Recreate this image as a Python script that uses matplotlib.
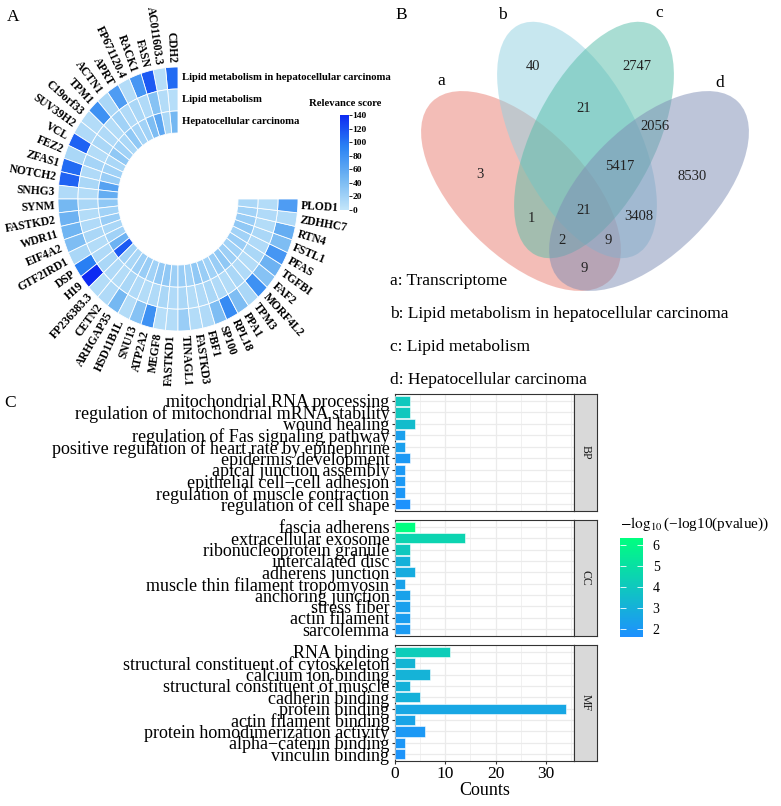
import numpy as np
import matplotlib
matplotlib.use("Agg")
import matplotlib.pyplot as plt
from matplotlib.patches import Wedge, Ellipse
from matplotlib.colors import LinearSegmentedColormap, Normalize
from matplotlib.cm import ScalarMappable

plt.rcParams['font.family'] = ['Liberation Serif', 'DejaVu Serif']
plt.rcParams['mathtext.fontset'] = 'stix'

# --- panel A data: relevance scores per gene, 3 tracks ---
genes = ["CDH2", "AC011603.3", "FASN", "RACK1", "FP671120.4", "APRT", "ACTN1", "TPM1",
         "C19orf33", "SUV39H2", "VCL", "FEZ2", "ZFAS1", "NOTCH2", "SNHG3", "SYNM",
         "FASTKD2", "WDR11", "EIF4A2", "GTF2IRD1", "DSP", "H19", "FP236383.3", "CETN2",
         "ARHGAP35", "HSD11B1L", "SNU13", "ATP2A2", "MEGF8", "FASTKD1", "TINAGL1",
         "FASTKD3", "FBF1", "SP100", "RPL18", "PPA1", "TPM3", "MORF4L2", "FAF2", "TGFBI",
         "PFAS", "FSTL1", "RTN4", "ZDHHC7", "PLOD1"]
tracks = ["Lipid metabolism in hepatocellular carcinoma", "Lipid metabolism",
          "Hepatocellular carcinoma"]
score_lm_hcc = [105, 8, 115, 75, 10, 70, 15, 80, 10, 12, 110, 15, 105, 110, 12, 45,
                50, 48, 40, 15, 95, 140, 10, 12, 45, 10, 35, 80, 8, 10, 25,
                10, 12, 40, 85, 40, 15, 80, 35, 50, 75, 40, 55, 12, 70]
score_lm = [8, 10, 35, 12, 15, 12, 20, 10, 12, 15, 10, 18, 12, 15, 10, 15,
            10, 12, 15, 10, 12, 15, 12, 10, 15, 12, 10, 12, 15, 12, 15,
            10, 12, 15, 12, 10, 15, 12, 10, 15, 12, 15, 10, 12, 10]
score_hcc = [45, 15, 60, 40, 20, 18, 30, 15, 20, 30, 15, 20, 25, 65, 55, 30,
             20, 25, 15, 20, 50, 115, 20, 15, 22, 25, 20, 28, 30, 22, 25,
             20, 30, 25, 20, 25, 30, 22, 20, 25, 20, 30, 25, 20, 15]
score_ticks = [0, 20, 40, 60, 80, 100, 120, 140]

# --- panel B data: Venn counts ---
venn_sets = ["a", "b", "c", "d"]
venn_names = ["Transcriptome", "Lipid metabolism in hepatocellular carcinoma",
              "Lipid metabolism", "Hepatocellular carcinoma"]
venn_regions = ["a", "b", "c", "d", "b&c", "c&d", "b&c&d", "a&c", "a&b&c&d",
                "b&d", "a&c&d", "a&b&d", "a&d"]
venn_counts = [3, 40, 2747, 8530, 21, 2056, 5417, 1, 21, 3408, 2, 9, 9]

# --- panel C data: GO enrichment ---
bp_terms = ["mitochondrial RNA processing", "regulation of mitochondrial mRNA stability",
            "wound healing", "regulation of Fas signaling pathway",
            "positive regulation of heart rate by epinephrine", "epidermis development",
            "apical junction assembly", "epithelial cell\u2212cell adhesion",
            "regulation of muscle contraction", "regulation of cell shape"]
bp_counts = [3, 3, 4, 2, 2, 3, 2, 2, 2, 3]
bp_score = [4.0, 4.0, 3.5, 2.3, 2.3, 2.0, 2.0, 2.0, 1.9, 1.7]

cc_terms = ["fascia adherens", "extracellular exosome", "ribonucleoprotein granule",
            "intercalated disc", "adherens junction", "muscle thin filament tropomyosin",
            "anchoring junction", "stress fiber", "actin filament", "sarcolemma"]
cc_counts = [4, 14, 3, 3, 4, 2, 3, 3, 3, 3]
cc_score = [6.3, 4.5, 4.0, 3.0, 2.8, 2.4, 2.4, 2.3, 2.2, 2.1]

mf_terms = ["RNA binding", "structural constituent of cytoskeleton", "calcium ion binding",
            "structural constituent of muscle", "cadherin binding", "protein binding",
            "actin filament binding", "protein homodimerization activity",
            "alpha\u2212catenin binding", "vinculin binding"]
mf_counts = [11, 4, 7, 3, 5, 34, 4, 6, 2, 2]
mf_score = [4.2, 3.2, 3.1, 3.0, 3.0, 2.6, 2.5, 2.0, 1.9, 1.8]

# --- figure ---
W, H = 781, 806
fig = plt.figure(figsize=(W / 100, H / 100), dpi=100)


def box(x0, y0, x1, y1):
    # pixel box (top-left origin) -> figure rect
    return [x0 / W, 1 - y1 / H, (x1 - x0) / W, (y1 - y0) / H]


# overlay axes in pixel coordinates (venn + panel letters)
ov = fig.add_axes([0, 0, 1, 1])
ov.set_xlim(0, W)
ov.set_ylim(H, 0)
ov.axis('off')

for lab, (x, y) in zip(["A", "B", "C"], [(13, 17), (401, 15), (10, 403)]):
    ov.text(x, y, lab, fontsize=12.5, ha='center', va='center')

# ---------------- A: circular heatmap ----------------
cmap_a = LinearSegmentedColormap.from_list(
    "rel", ["#c4e6fa", "#72b6f2", "#2a82f3", "#0d2af2"])
norm_a = Normalize(0, 140)

ax_a = fig.add_axes(box(58, 67, 298, 331))
ax_a.set_xlim(-1, 1)
ax_a.set_ylim(-1, 1)
ax_a.axis('off')

n = len(genes)
step = 270 / n
r_in = 0.5
dr = (1 - r_in) / 3
for t, vals in enumerate([score_lm_hcc, score_lm, score_hcc]):
    r_out = 1 - t * dr
    for i, v in enumerate(vals):
        a0 = 90 + i * step
        ax_a.add_patch(Wedge((0, 0), r_out, a0, a0 + step, width=dr,
                             facecolor=cmap_a(norm_a(v)), edgecolor='white', lw=0.6))
    ax_a.text(0.03, r_out - dr / 2, tracks[t], ha='left', va='center',
              fontsize=7.7, fontweight='bold')

sx, sy = 120, 132
for i, g in enumerate(genes):
    a = np.deg2rad(90 + (i + 0.5) * step)
    x, y = 1.03 * np.cos(a), 1.03 * np.sin(a)
    vis = np.degrees(np.arctan2(sy * np.sin(a), sx * np.cos(a))) % 360
    if 90 < vis < 270:
        rot, ha = vis - 180, 'right'
    else:
        rot, ha = vis, 'left'
    ax_a.text(x, y, g, rotation=rot, rotation_mode='anchor', ha=ha, va='center',
              fontsize=8.3, fontweight='bold')

cax_a = fig.add_axes(box(340, 115, 349, 210))
cb_a = fig.colorbar(ScalarMappable(norm_a, cmap_a), cax=cax_a, ticks=score_ticks)
cb_a.outline.set_visible(False)
cax_a.tick_params(labelsize=6.8, length=2, width=0.6, pad=0.5)
for lbl in cax_a.get_yticklabels():
    lbl.set_fontweight('bold')
fig.text(345 / W, 1 - 104 / H, "Relevance score", ha='center', va='center',
         fontsize=7.7, fontweight='bold')

# ---------------- B: Venn ----------------
venn_shapes = {  # center x, center y, width, height, angle (pixel space, y down)
    "a": (521, 191, 252, 128, 45, "#e97d71"),
    "b": (577, 140, 258, 122, 63, "#91d1e1"),
    "c": (594, 140, 258, 122, 117, "#55bda9"),
    "d": (649, 191, 252, 128, -45, "#7d8db5"),
}
for s in venn_sets:
    cx, cy, w, h, ang, col = venn_shapes[s]
    ov.add_patch(Ellipse((cx, cy), w, h, angle=ang, facecolor=col, alpha=0.5,
                         edgecolor='none'))

set_label_pos = [(441, 81), (502, 15), (659, 13), (720, 83)]
for s, (x, y) in zip(venn_sets, set_label_pos):
    ov.text(x, y, s, fontsize=12.5, ha='center', va='center')

region_pos = [(480, 175), (533, 66), (637, 66), (692, 176), (584, 109), (655, 127),
              (620, 167), (531, 218), (584, 210), (639, 216), (562, 241), (608, 240),
              (584, 269)]
for c, (x, y) in zip(venn_counts, region_pos):
    ov.text(x, y, str(c), fontsize=10.5, ha='center', va='center', color='#222222')

for k, (s, name) in enumerate(zip(venn_sets, venn_names)):
    ov.text(390, 281 + 33 * k, f"{s}: {name}", fontsize=12.5, ha='left', va='center')

# ---------------- C: GO bar chart ----------------
cmap_c = LinearSegmentedColormap.from_list("pv", ["#1e90ff", "#00ff7f"])
norm_c = Normalize(1.62, 6.33)

facets = [("BP", bp_terms, bp_counts, bp_score, (394, 511)),
          ("CC", cc_terms, cc_counts, cc_score, (520, 636)),
          ("MF", mf_terms, mf_counts, mf_score, (645, 761))]

for k, (name, terms, counts, score, (y0, y1)) in enumerate(facets):
    ax = fig.add_axes(box(395, y0, 574, y1))
    pos = np.arange(len(terms))
    ax.barh(pos, counts, height=0.9, color=cmap_c(norm_c(np.array(score))),
            edgecolor='white', lw=0.4, zorder=3)
    ax.set_yticks(pos)
    ax.set_yticklabels(terms, fontsize=13)
    ax.set_ylim(len(terms) - 0.4, -0.6)
    ax.set_xlim(0, 35.6)
    ax.set_xticks([0, 10, 20, 30])
    ax.set_xticks([5, 15, 25, 35], minor=True)
    ax.grid(which='major', color='#ebebeb', lw=0.9, zorder=0)
    ax.grid(which='minor', axis='x', color='#ebebeb', lw=0.5, zorder=0)
    ax.set_axisbelow(True)
    for sp in ax.spines.values():
        sp.set_color('#333333')
        sp.set_linewidth(0.8)
    ax.tick_params(axis='y', length=2.5, color='#333333', pad=1.5)
    ax.tick_params(axis='x', which='minor', length=0)
    if k < 2:
        ax.tick_params(axis='x', which='major', length=0, labelbottom=False)
    else:
        ax.tick_params(axis='x', which='major', length=2.5, color='#333333',
                       labelsize=12.5, pad=1)
        ax.set_xlabel("Counts", fontsize=13, labelpad=0)

    sax = fig.add_axes(box(574, y0, 597, y1))
    sax.set_xticks([])
    sax.set_yticks([])
    sax.set_facecolor('#d9d9d9')
    for sp in sax.spines.values():
        sp.set_color('#333333')
        sp.set_linewidth(0.8)
    sax.text(0.5, 0.5, name, rotation=270, ha='center', va='center', fontsize=8.5,
             color='#1a1a1a', transform=sax.transAxes)

cax_c = fig.add_axes(box(620, 538, 643, 637))
cb_c = fig.colorbar(ScalarMappable(norm_c, cmap_c), cax=cax_c, ticks=[2, 3, 4, 5, 6])
cb_c.outline.set_visible(False)
cax_c.tick_params(labelsize=10, direction='in', color='white', length=4, width=0.6,
                  left=True, right=True, pad=7)
fig.text(620 / W, 1 - 524 / H, "$-\\log_{10}$(\u2212log10(pvalue))", ha='left',
         va='center', fontsize=11)

fig.savefig("out.png", dpi=100)
